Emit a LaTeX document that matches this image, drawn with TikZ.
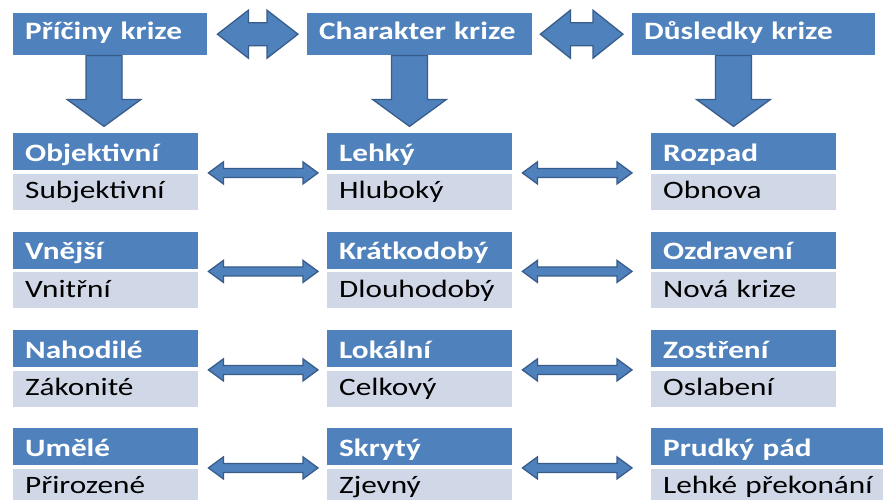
\documentclass[tikz,border=0pt]{standalone}
\usepackage{fontspec}
\setmainfont{Carlito}[FakeStretch=1.25]
\usetikzlibrary{calc}
\definecolor{accb}{HTML}{4F81BD}
\definecolor{accd}{HTML}{385D8A}
\definecolor{accl}{HTML}{D0D8E8}
\tikzset{
  boxbase/.style={anchor=north west, inner xsep=6pt, inner ysep=0pt, align=left,
    font=\fontsize{25}{30}\selectfont},
  hdr/.style={boxbase, fill=accb, text=white, font=\fontsize{25}{30}\selectfont\bfseries,
    minimum height=37pt, text width=173pt, text height=22pt, text depth=3pt},
  sub/.style={boxbase, fill=accl, text=black,
    minimum height=36pt, text width=173pt, text height=18pt, text depth=4pt},
  topbox/.style={boxbase, fill=accb, text=white, font=\fontsize{25}{30}\selectfont\bfseries,
    minimum height=42pt, text height=16pt, text depth=6pt},
  barrow/.style={fill=accb, draw=accd, line width=1.3pt, line join=miter}
}
\newcommand\ind[1]{\mbox{\hspace*{6pt}#1}}
% #1 from, #2 to, #3 head length, #4 head half height, #5 shaft half height
\newcommand\dblarr[5]{%
  \path[barrow] (#1) -- ++(#3,-#4) -- ++(0,#4-#5) -- ($(#2)+(-#3,-#5)$) -- ++(0,#5-#4)
    -- (#2) -- ++(-#3,#4) -- ++(0,#5-#4) -- ($(#1)+(#3,#5)$) -- ++(0,#4-#5) -- cycle;}
% #1 top centre point
\newcommand\downarr[1]{%
  \path[barrow] ($(#1)+(-18,0)$) -- ++(36,0) -- ++(0,44) -- ++(19,0) -- ($(#1)+(0,71)$)
    -- ++(-37,-27) -- ++(19,0) -- cycle;}
\begin{document}
\begin{tikzpicture}[x=1pt,y=-1pt]
\useasboundingbox[fill=white] (0,0) rectangle (883,499);
% top boxes
\node[topbox, text width=182pt] (t1) at (13,13) {\ind{Příčiny krize}};
\node[topbox, text width=213pt] (t2) at (307,13) {\ind{Charakter krize}};
\node[topbox, text width=231pt] (t3) at (632,13) {\ind{Důsledky krize}};
% top double arrows
\coordinate (ta1) at ($(t1.east)+(10,0)$);
\coordinate (tb1) at ($(t2.west)+(-9,0)$);
\coordinate (ta2) at ($(t2.east)+(8,0)$);
\coordinate (tb2) at ($(t3.west)+(-9,0)$);
\dblarr{ta1}{tb1}{31}{24}{11.5}
\dblarr{ta2}{tb2}{30}{24}{11.5}
% down arrows
\coordinate (d1) at ($(t1.south west)+(91,0)$);
\coordinate (d2) at ($(t2.south west)+(102.5,0)$);
\coordinate (d3) at ($(t3.south west)+(101.5,0)$);
\downarr{d1}
\downarr{d2}
\downarr{d3}
% rows
\foreach \i/\y/\w/\a/\b/\c/\d/\e/\f in {
  1/133/173/Objektivní/Subjektivní/Lehký/Hluboký/Rozpad/Obnova,
  2/231.5/173/Vnější/Vnitřní/Krátkodobý/Dlouhodobý/Ozdravení/Nová krize,
  3/330/173/Nahodilé/Zákonité/Lokální/Celkový/Zostření/Oslabení,
  4/428/230/Umělé/Přirozené/Skrytý/Zjevný/Prudký pád/Lehké překonání}{
  \node[hdr] (hL\i) at (13,\y) {\ind{\a}};
  \node[sub] (sL\i) at (13,\y+40.5) {\ind{\b}};
  \node[hdr] (hM\i) at (327,\y) {\ind{\c}};
  \node[sub] (sM\i) at (327,\y+40.5) {\ind{\d}};
  \node[hdr, text width=\w pt] (hR\i) at (651,\y) {\ind{\e}};
  \node[sub, text width=\w pt] (sR\i) at (651,\y+40.5) {\ind{\f}};
  \coordinate (aL\i) at ($(hL\i.south east)+(10,2.5)$);
  \coordinate (bL\i) at ($(hM\i.south west)+(-9,2.5)$);
  \coordinate (aR\i) at ($(hM\i.south east)+(10,2.5)$);
  \coordinate (bR\i) at ($(hR\i.south west)+(-19,2.5)$);
  \dblarr{aL\i}{bL\i}{15}{11}{4.5}
  \dblarr{aR\i}{bR\i}{15}{11}{4.5}
}
\end{tikzpicture}
\end{document}
